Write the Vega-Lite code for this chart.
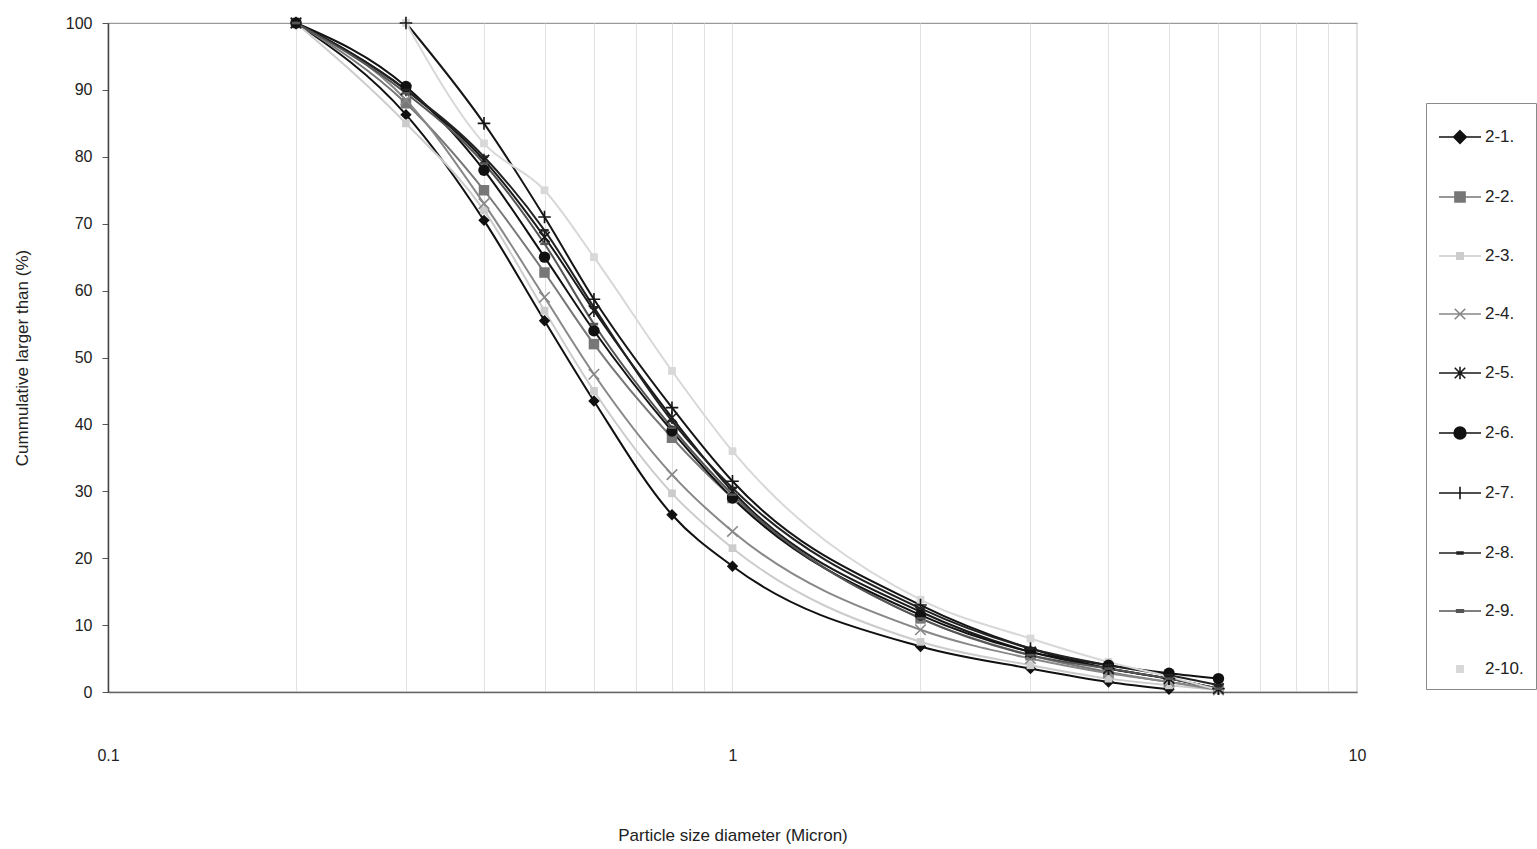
{
  "$schema": "https://vega.github.io/schema/vega-lite/v6.json",
  "width": 1249,
  "height": 669,
  "autosize": {"type": "none"},
  "padding": {"left": 108, "top": 23, "right": 180, "bottom": 157},
  "background": "white",
  "config": {
    "font": "Liberation Sans",
    "view": {"stroke": "#9a9a9a", "strokeWidth": 1.2},
    "axis": {"labelFont": "Liberation Sans", "titleFont": "Liberation Sans", "labelColor": "#222", "titleColor": "#222", "titleFontWeight": "normal"}
  },
  "data": {"values": [
    {"series": "2-1.", "d": 0.2, "p": 100}, {"series": "2-1.", "d": 0.3, "p": 86.3}, {"series": "2-1.", "d": 0.4, "p": 70.5}, {"series": "2-1.", "d": 0.5, "p": 55.5}, {"series": "2-1.", "d": 0.6, "p": 43.5}, {"series": "2-1.", "d": 0.8, "p": 26.5}, {"series": "2-1.", "d": 1, "p": 18.8}, {"series": "2-1.", "d": 2, "p": 6.8}, {"series": "2-1.", "d": 3, "p": 3.5}, {"series": "2-1.", "d": 4, "p": 1.5}, {"series": "2-1.", "d": 5, "p": 0.4},
    {"series": "2-2.", "d": 0.2, "p": 100}, {"series": "2-2.", "d": 0.3, "p": 88}, {"series": "2-2.", "d": 0.4, "p": 75}, {"series": "2-2.", "d": 0.5, "p": 62.7}, {"series": "2-2.", "d": 0.6, "p": 52}, {"series": "2-2.", "d": 0.8, "p": 38}, {"series": "2-2.", "d": 1, "p": 29}, {"series": "2-2.", "d": 2, "p": 11}, {"series": "2-2.", "d": 3, "p": 5.5}, {"series": "2-2.", "d": 4, "p": 3}, {"series": "2-2.", "d": 5, "p": 1.5}, {"series": "2-2.", "d": 6, "p": 0.5},
    {"series": "2-3.", "d": 0.2, "p": 100}, {"series": "2-3.", "d": 0.3, "p": 85}, {"series": "2-3.", "d": 0.4, "p": 72}, {"series": "2-3.", "d": 0.5, "p": 57}, {"series": "2-3.", "d": 0.6, "p": 45}, {"series": "2-3.", "d": 0.8, "p": 29.7}, {"series": "2-3.", "d": 1, "p": 21.5}, {"series": "2-3.", "d": 2, "p": 7.5}, {"series": "2-3.", "d": 3, "p": 4}, {"series": "2-3.", "d": 4, "p": 2}, {"series": "2-3.", "d": 5, "p": 1}, {"series": "2-3.", "d": 6, "p": 0.3},
    {"series": "2-4.", "d": 0.2, "p": 100}, {"series": "2-4.", "d": 0.3, "p": 88.5}, {"series": "2-4.", "d": 0.4, "p": 73}, {"series": "2-4.", "d": 0.5, "p": 59}, {"series": "2-4.", "d": 0.6, "p": 47.5}, {"series": "2-4.", "d": 0.8, "p": 32.5}, {"series": "2-4.", "d": 1, "p": 24}, {"series": "2-4.", "d": 2, "p": 9.3}, {"series": "2-4.", "d": 3, "p": 5}, {"series": "2-4.", "d": 4, "p": 2.8}, {"series": "2-4.", "d": 5, "p": 1.5}, {"series": "2-4.", "d": 6, "p": 0.3},
    {"series": "2-5.", "d": 0.2, "p": 100}, {"series": "2-5.", "d": 0.3, "p": 90}, {"series": "2-5.", "d": 0.4, "p": 79.5}, {"series": "2-5.", "d": 0.5, "p": 68}, {"series": "2-5.", "d": 0.6, "p": 57}, {"series": "2-5.", "d": 0.8, "p": 41}, {"series": "2-5.", "d": 1, "p": 30}, {"series": "2-5.", "d": 2, "p": 12}, {"series": "2-5.", "d": 3, "p": 6}, {"series": "2-5.", "d": 4, "p": 3.5}, {"series": "2-5.", "d": 5, "p": 2}, {"series": "2-5.", "d": 6, "p": 0.5},
    {"series": "2-6.", "d": 0.2, "p": 100}, {"series": "2-6.", "d": 0.3, "p": 90.5}, {"series": "2-6.", "d": 0.4, "p": 78}, {"series": "2-6.", "d": 0.5, "p": 65}, {"series": "2-6.", "d": 0.6, "p": 54}, {"series": "2-6.", "d": 0.8, "p": 39}, {"series": "2-6.", "d": 1, "p": 29}, {"series": "2-6.", "d": 2, "p": 11.5}, {"series": "2-6.", "d": 3, "p": 6}, {"series": "2-6.", "d": 4, "p": 4}, {"series": "2-6.", "d": 5, "p": 2.8}, {"series": "2-6.", "d": 6, "p": 2},
    {"series": "2-7.", "d": 0.3, "p": 100}, {"series": "2-7.", "d": 0.4, "p": 85}, {"series": "2-7.", "d": 0.5, "p": 71}, {"series": "2-7.", "d": 0.6, "p": 58.7}, {"series": "2-7.", "d": 0.8, "p": 42.5}, {"series": "2-7.", "d": 1, "p": 31.5}, {"series": "2-7.", "d": 2, "p": 13}, {"series": "2-7.", "d": 3, "p": 6.5}, {"series": "2-7.", "d": 4, "p": 3.5}, {"series": "2-7.", "d": 5, "p": 2}, {"series": "2-7.", "d": 6, "p": 0.5},
    {"series": "2-8.", "d": 0.2, "p": 100}, {"series": "2-8.", "d": 0.3, "p": 90}, {"series": "2-8.", "d": 0.4, "p": 80}, {"series": "2-8.", "d": 0.5, "p": 69}, {"series": "2-8.", "d": 0.6, "p": 57.5}, {"series": "2-8.", "d": 0.8, "p": 40.5}, {"series": "2-8.", "d": 1, "p": 30.5}, {"series": "2-8.", "d": 2, "p": 12.5}, {"series": "2-8.", "d": 3, "p": 6.5}, {"series": "2-8.", "d": 4, "p": 4}, {"series": "2-8.", "d": 5, "p": 2.5}, {"series": "2-8.", "d": 6, "p": 1},
    {"series": "2-9.", "d": 0.2, "p": 100}, {"series": "2-9.", "d": 0.3, "p": 89.5}, {"series": "2-9.", "d": 0.4, "p": 79}, {"series": "2-9.", "d": 0.5, "p": 67}, {"series": "2-9.", "d": 0.6, "p": 55}, {"series": "2-9.", "d": 0.8, "p": 39.5}, {"series": "2-9.", "d": 1, "p": 29.5}, {"series": "2-9.", "d": 2, "p": 11}, {"series": "2-9.", "d": 3, "p": 5.5}, {"series": "2-9.", "d": 4, "p": 3.5}, {"series": "2-9.", "d": 5, "p": 2}, {"series": "2-9.", "d": 6, "p": 0.5},
    {"series": "2-10.", "d": 0.3, "p": 100}, {"series": "2-10.", "d": 0.4, "p": 82}, {"series": "2-10.", "d": 0.5, "p": 75}, {"series": "2-10.", "d": 0.6, "p": 65}, {"series": "2-10.", "d": 0.8, "p": 48}, {"series": "2-10.", "d": 1, "p": 36}, {"series": "2-10.", "d": 2, "p": 13.8}, {"series": "2-10.", "d": 3, "p": 8}, {"series": "2-10.", "d": 4, "p": 4.5}, {"series": "2-10.", "d": 5, "p": 2.3}, {"series": "2-10.", "d": 6, "p": 0.3}
  ]},
  "encoding": {
    "x": {
      "field": "d", "type": "quantitative",
      "scale": {"type": "log", "domain": [0.1, 10], "nice": false},
      "axis": {
        "values": [0.1, 0.2, 0.3, 0.4, 0.5, 0.6, 0.7, 0.8, 0.9, 1, 2, 3, 4, 5, 6, 7, 8, 9, 10],
        "labelExpr": "datum.value == 0.1 || datum.value == 1 || datum.value == 10 ? format(datum.value, '~g') : ''",
        "title": "Particle size diameter (Micron)",
        "grid": true, "gridColor": "#e2e2e2", "gridWidth": 1,
        "ticks": false, "domainColor": "#666", "domainWidth": 1.5,
        "labelFontSize": 16, "labelPadding": 55, "labelFlush": false,
        "titleFontSize": 17, "titlePadding": 64
      }
    },
    "y": {
      "field": "p", "type": "quantitative",
      "scale": {"domain": [0, 100], "nice": false},
      "axis": {
        "values": [0, 10, 20, 30, 40, 50, 60, 70, 80, 90, 100],
        "title": "Cummulative larger than (%)",
        "grid": false, "ticks": true, "tickSize": 6, "tickColor": "#555",
        "domainColor": "#444", "domainWidth": 1.5,
        "labelFontSize": 16, "labelPadding": 10,
        "titleFontSize": 17, "titlePadding": 34
      }
    },
    "color": {
      "field": "series", "type": "nominal",
      "scale": {
        "domain": ["2-1.", "2-2.", "2-3.", "2-4.", "2-5.", "2-6.", "2-7.", "2-8.", "2-9.", "2-10."],
        "range": ["#111111", "#777777", "#cccccc", "#888888", "#1a1a1a", "#111111", "#151515", "#222222", "#555555", "#d8d8d8"]
      },
      "legend": {
        "title": null,
        "orient": "none", "legendX": 1318, "legendY": 80,
        "strokeColor": "#8a8a8a", "padding": 12,
        "symbolSize": 1764, "symbolStrokeWidth": 1.6,
        "labelFontSize": 17, "labelColor": "#222", "labelOffset": 3,
        "rowPadding": 28,
        "encode": {
          "symbols": {
            "update": {
              "shape": {"signal": "({'2-1.': 'M-1,0H1M0,-0.3L0.3,0L0,0.3L-0.3,0Z', '2-2.': 'M-1,0H1M-0.24,-0.24H0.24V0.24H-0.24Z', '2-3.': 'M-1,0H1M-0.15,-0.15H0.15V0.15H-0.15Z', '2-4.': 'M-1,0H1M-0.25,-0.25L0.25,0.25M-0.25,0.25L0.25,-0.25', '2-5.': 'M-1,0H1M-0.25,-0.25L0.25,0.25M-0.25,0.25L0.25,-0.25M0,-0.3V0.3', '2-6.': 'M-1,0H1M-0.28,0A0.28,0.28 0 1,0 0.28,0A0.28,0.28 0 1,0 -0.28,0Z', '2-7.': 'M-1,0H1M0,-0.3V0.3', '2-8.': 'M-1,0H1M-0.14,-0.05H0.14V0.05H-0.14Z', '2-9.': 'M-1,0H1M-0.16,-0.06H0.16V0.06H-0.16Z', '2-10.': 'M-0.15,-0.15H0.15V0.15H-0.15Z'})[datum.value]"},
              "fill": {"signal": "indexof(['2-4.', '2-5.', '2-7.'], datum.value) >= 0 ? 'transparent' : scale('color', datum.value)"},
              "stroke": {"signal": "scale('color', datum.value)"},
              "opacity": {"value": 1}
            }
          }
        }
      }
    }
  },
  "layer": [
    {
      "mark": {"type": "line", "strokeWidth": 2, "interpolate": "monotone"},
      "encoding": {"detail": {"field": "series"}}
    },
    {
      "transform": [{"filter": {"field": "series", "equal": "2-1."}}],
      "mark": {"type": "point", "filled": true, "opacity": 1, "size": 130, "shape": "diamond"}
    },
    {
      "transform": [{"filter": {"field": "series", "equal": "2-2."}}],
      "mark": {"type": "point", "filled": true, "opacity": 1, "size": 110, "shape": "square"}
    },
    {
      "transform": [{"filter": {"field": "series", "oneOf": ["2-3.", "2-10."]}}],
      "mark": {"type": "point", "filled": true, "opacity": 1, "size": 60, "shape": "square"}
    },
    {
      "transform": [{"filter": {"field": "series", "equal": "2-4."}}],
      "mark": {"type": "point", "filled": false, "opacity": 1, "size": 110, "strokeWidth": 1.6, "shape": "M-1,-1L1,1M-1,1L1,-1"}
    },
    {
      "transform": [{"filter": {"field": "series", "equal": "2-5."}}],
      "mark": {"type": "point", "filled": false, "opacity": 1, "size": 110, "strokeWidth": 1.6, "shape": "M-1,-1L1,1M-1,1L1,-1M0,-1.2V1.2"}
    },
    {
      "transform": [{"filter": {"field": "series", "equal": "2-6."}}],
      "mark": {"type": "point", "filled": true, "opacity": 1, "size": 130, "shape": "circle"}
    },
    {
      "transform": [{"filter": {"field": "series", "equal": "2-7."}}],
      "mark": {"type": "point", "filled": false, "opacity": 1, "size": 110, "strokeWidth": 1.6, "shape": "M-1.2,0H1.2M0,-1.2V1.2"}
    },
    {
      "transform": [{"filter": {"field": "series", "oneOf": ["2-8.", "2-9."]}}],
      "mark": {"type": "point", "filled": true, "opacity": 1, "size": 110, "shape": "M-0.8,-0.25H0.8V0.25H-0.8Z"}
    }
  ]
}
